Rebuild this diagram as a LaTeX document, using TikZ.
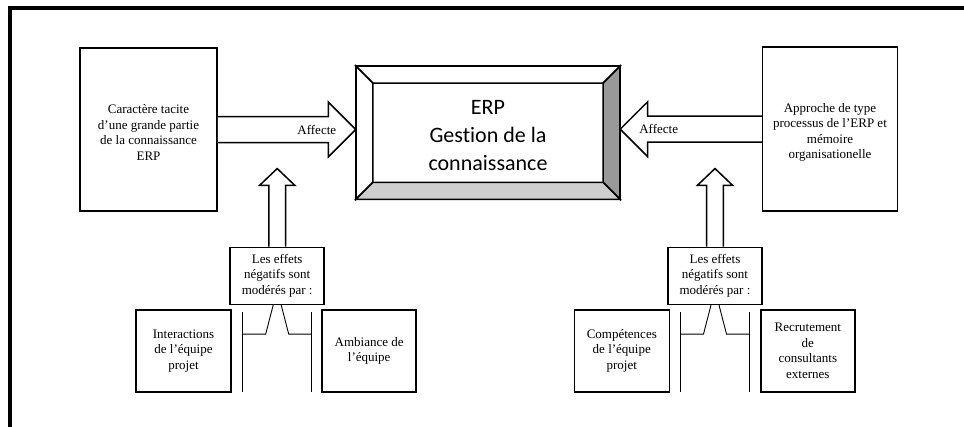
\documentclass[tikz,border=0pt]{standalone}
\usepackage{fontspec}
\setmainfont{Liberation Serif}
\newfontfamily\calib[Ligatures=NoCommon]{Carlito}
\usetikzlibrary{calc}
\definecolor{bevelR}{RGB}{153,153,153}
\definecolor{bevelB}{RGB}{206,206,206}
\begin{document}
\begin{tikzpicture}[x=1pt,y=-1pt,
  box/.style={draw, line width=1.5pt, fill=white, inner sep=0pt, align=center, font=\fontsize{13}{15.5}\selectfont},
  txt/.style={align=center, font=\fontsize{13}{15.5}\selectfont, inner sep=0pt},
  barrow/.style={draw, line width=1.5pt, fill=white, line join=miter},
  bevel/.style={draw, line width=1.5pt, line join=miter},
  brk/.style={draw, line width=0.9pt}]

\useasboundingbox (0,0) rectangle (964,426);
\draw[line width=4pt, line join=miter] (970,8) -- (10,8) -- (10,430);

% side boxes
\node[box, minimum width=137, minimum height=163] (lbox) at (148.5,129.5) {};
\node[txt] (lboxt) at ($(lbox)+(0,3)$) {Caractère tacite\\d’une grande partie\\de la connaissance\\ERP};
\node[box, minimum width=135, minimum height=164] (rbox) at (830,129.2) {};
\node[txt] (rboxt) at ($(rbox)+(0,3)$) {Approche de type\\processus de l’ERP et\\mémoire\\organisationelle};

% central bevel box
\node[inner sep=0pt, minimum width=264, minimum height=133] (erp) at (488,132.7) {};
\path[bevel, fill=white] (erp.north west) -- (erp.north east) -- ($(erp.north east)+(-17,17)$) -- ($(erp.north west)+(17,17)$) -- cycle;
\path[bevel, fill=white] (erp.north west) -- (erp.south west) -- ($(erp.south west)+(17,-17)$) -- ($(erp.north west)+(17,17)$) -- cycle;
\path[bevel, fill=bevelR] (erp.north east) -- (erp.south east) -- ($(erp.south east)+(-17,-17)$) -- ($(erp.north east)+(-17,17)$) -- cycle;
\path[bevel, fill=bevelB] (erp.south west) -- (erp.south east) -- ($(erp.south east)+(-17,-17)$) -- ($(erp.south west)+(17,-17)$) -- cycle;
\draw[bevel] (erp.north west) rectangle (erp.south east);
\node[font=\calib\fontsize{22}{28}\selectfont, align=center, inner sep=0pt] (erpt) at ($(erp)+(0,3)$) {ERP\\Gestion de la\\connaissance};

% horizontal block arrows
\coordinate (la) at (lbox.east);
\coordinate (lt) at (erp.west |- lbox.east);
\path[barrow] ($(la)+(0,-13)$) -- ($(lt)+(-27.5,-13)$) -- ($(lt)+(-27.5,-27.5)$) -- (lt) -- ($(lt)+(-27.5,27.5)$) -- ($(lt)+(-27.5,13)$) -- ($(la)+(0,13)$);
\node[txt] (laff) at ($(lt)+(-39,0)$) {Affecte};

\coordinate (ra) at (rbox.west);
\coordinate (rt) at (erp.east |- rbox.west);
\path[barrow] ($(ra)+(0,-13)$) -- ($(rt)+(27.5,-13)$) -- ($(rt)+(27.5,-27.5)$) -- (rt) -- ($(rt)+(27.5,27.5)$) -- ($(rt)+(27.5,13)$) -- ($(ra)+(0,13)$);
\node[txt] (raff) at ($(rt)+(38.5,0)$) {Affecte};

% moderation boxes
\node[box, minimum width=94, minimum height=57] (le) at (277.2,275.8) {Les effets\\négatifs sont\\modérés par :};
\node[box, minimum width=94, minimum height=57] (re) at (715,275.8) {Les effets\\négatifs sont\\modérés par :};

% vertical block arrows and brackets
\foreach \b in {le,re}{
  \coordinate (\b ut) at ($(\b.north)+(0,-78)$);
  \path[barrow] ($(\b.north)+(-8.3,0)$) -- ($(\b ut)+(-8.3,16.7)$) -- ($(\b ut)+(-17.5,16.7)$) -- (\b ut) -- ($(\b ut)+(17.5,16.7)$) -- ($(\b ut)+(8.3,16.7)$) -- ($(\b.north)+(8.3,0)$);
  \draw[brk] ($(\b.south)+(-34.5,7.4)$) -- ($(\b.south)+(-34.5,87.4)$);
  \draw[brk] ($(\b.south)+(34.5,7.4)$) -- ($(\b.south)+(34.5,87.4)$);
  \draw[brk] ($(\b.south)+(-4,0)$) -- ($(\b.south)+(-11.5,29)$) -- ($(\b.south)+(-34.5,29)$);
  \draw[brk] ($(\b.south)+(4,0)$) -- ($(\b.south)+(11.5,29)$) -- ($(\b.south)+(34.5,29)$);
}

% bottom boxes
\node[box, minimum width=95, minimum height=82] (inter) at (183.5,350.8) {Interactions\\de l’équipe\\projet};
\node[box, minimum width=94, minimum height=82] (amb) at (369.2,350.8) {Ambiance de\\l’équipe};
\node[box, minimum width=95, minimum height=82] (comp) at (621.8,350.8) {Compétences\\de l’équipe\\projet};
\node[box, minimum width=94, minimum height=82] (recr) at (807.8,350.8) {Recrutement\\de\\consultants\\externes};
\end{tikzpicture}
\end{document}
